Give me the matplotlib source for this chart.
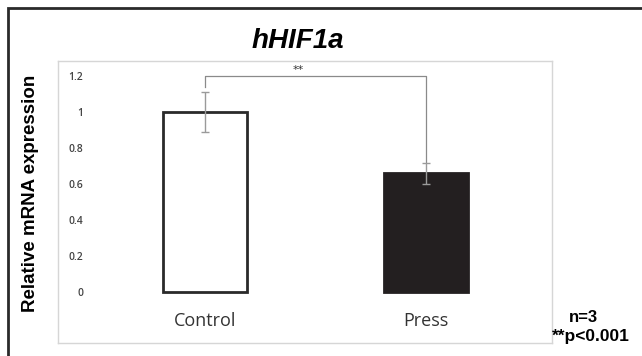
import matplotlib
matplotlib.use("Agg")
import matplotlib.pyplot as plt
from matplotlib.patches import Rectangle

categories = ["Control", "Press"]
values = [1.0, 0.66]
errors = [0.11, 0.058]
yticks = [0, 0.2, 0.4, 0.6, 0.8, 1, 1.2]
ytick_labels = ["0", "0.2", "0.4", "0.6", "0.8", "1", "1.2"]
bar_colors = ["white", "#231f20"]

W, H = 642, 356
fig = plt.figure(figsize=(W / 100, H / 100), dpi=100)

# outer frame
fig.patches.append(Rectangle((7.5 / W, -0.1), 1.1, (1 - 8 / H) + 0.1, transform=fig.transFigure,
                             fill=False, edgecolor="#2a2a2a", linewidth=2.0))

# axes box (inner gray box)
x0, x1, yt, yb = 58, 552, 61, 343
ax = fig.add_axes([x0 / W, 1 - yb / H, (x1 - x0) / W, (yb - yt) / H])
for s in ax.spines.values():
    s.set_color("#d6d6d6")
    s.set_linewidth(1.0)

pos = list(range(len(categories)))
ax.bar(pos, values, width=0.38, color=bar_colors, edgecolor=["#2a2a2a", "#231f20"],
       linewidth=2.0, zorder=2)
ax.errorbar(pos, values, yerr=errors, fmt="none", ecolor="#9a9a9a", elinewidth=1.0,
            capsize=3, capthick=1.0, zorder=3)

ax.set_xlim(-0.665, 1.57)
ax.set_ylim(-0.283, 1.283)
ax.set_xticks([])
ax.set_yticks(yticks)
ax.set_yticklabels(ytick_labels, fontsize=7.5, color="#444444", family="Open Sans",
                   fontweight="semibold")
ax.tick_params(axis="y", length=0, pad=-18)
for lab in ax.get_yticklabels():
    lab.set_horizontalalignment("right")

for p, c in zip(pos, categories):
    ax.text(p, -0.16, c, ha="center", va="center", fontsize=13, color="#333333",
            family="Open Sans")

# significance bracket
yb_ = 1.2
ax.plot([0, 0, 1, 1], [values[0] + errors[0] + 0.03, yb_, yb_, values[1] + errors[1] + 0.005],
        color="#8a8a8a", lw=0.9, zorder=1)
ax.text(0.42, yb_ + 0.005, "**", ha="center", va="bottom", fontsize=8, color="#333333")

fig.text(298 / W, 1 - 41 / H, "hHIF1a", ha="center", va="center", fontsize=20,
         fontweight="bold", fontstyle="italic", family="Liberation Sans")
fig.text(31 / W, 1 - 193 / H, "Relative mRNA expression", rotation=90, ha="center",
         va="center", fontsize=13.5, fontweight="bold", family="Liberation Sans")
fig.text(583 / W, 1 - 317 / H, "n=3", ha="center", va="center", fontsize=12,
         fontweight="bold", family="Liberation Sans")
fig.text(591 / W, 1 - 337 / H, "**p<0.001", ha="center", va="center", fontsize=12.5,
         fontweight="bold", family="Liberation Sans")

fig.savefig("out.png", dpi=100)
